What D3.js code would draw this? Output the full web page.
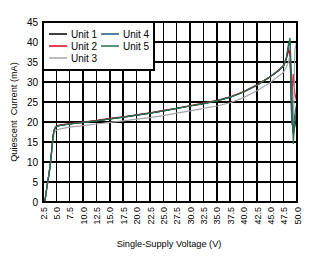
<!DOCTYPE html>
<html>
<head>
<meta charset="utf-8">
<script src="https://cdn.jsdelivr.net/npm/d3@7"></script>
<style>
  body { margin: 0; background: #fff; }
  svg text { font-family: "Liberation Sans", Arial, sans-serif; fill: #000; }
</style>
</head>
<body>
<div id="chart"></div>
<script>
// supply voltage (V) sample points shared by all units
var voltage = [2.5, 2.8, 3.0, 3.2, 3.5, 3.8, 4.1, 4.4, 4.6, 4.9,
               5.5, 7.5, 10, 12.5, 15, 17.5, 20, 22.5, 25, 27.5, 30, 32.5, 35, 37.5, 40, 42.5, 45, 46.5, 47.5,
               48, 48.4, 48.7, 49.0, 49.3, 49.6, 50];

// quiescent current (mA)
var unit1 = [0, 0.1, 1.5, 3.5, 6, 8.7, 12.5, 16.6, 18, 18.8,
             19.1, 19.5, 19.9, 20.3, 20.8, 21.2, 21.7, 22.2, 22.8, 23.4, 24.0, 24.6, 25.3, 26.2, 27.5, 29.2, 31.3, 32.8, 34,
             35.8, 38, 37, 22, 17, 19, 22];
var unit2 = [0, 0.1, 1.5, 3.5, 6, 8.7, 12.5, 16.6, 18, 18.9,
             19.2, 19.6, 20.0, 20.4, 20.9, 21.3, 21.8, 22.3, 22.9, 23.4, 24.1, 24.7, 25.4, 26.3, 27.6, 29.3, 31.4, 32.9, 34.2,
             36, 38.5, 36, 25, 32, 27, 25];
var unit3 = [0, 0.1, 1.4, 3.3, 5.7, 8.3, 12, 15.8, 17.3, 17.9,
             18.2, 18.7, 19.1, 19.5, 19.9, 20.3, 20.7, 21.1, 21.6, 22.2, 22.8, 23.4, 24.0, 24.8, 26.1, 27.8, 29.9, 31.4, 32.5,
             33.8, 35, 36.5, 30, 18, 38, 40.5];
var unit4 = [0, 0.1, 1.5, 3.5, 6, 8.7, 12.5, 16.6, 18, 18.8,
             19.1, 19.5, 19.9, 20.3, 20.8, 21.2, 21.7, 22.2, 22.8, 23.4, 24.0, 24.6, 25.3, 26.2, 27.5, 29.2, 31.3, 32.8, 34,
             36, 39, 40, 20, 18, 22, 25];
var unit5 = [0, 0.1, 1.5, 3.5, 6, 8.7, 12.5, 16.6, 18, 18.8,
             19.1, 19.5, 19.9, 20.3, 20.8, 21.2, 21.7, 22.2, 22.8, 23.4, 24.0, 24.6, 25.3, 26.2, 27.5, 29.2, 31.3, 32.8, 34,
             35.8, 39.5, 41, 30, 14.5, 20, 24];

var seriesNames = ['Unit 1', 'Unit 2', 'Unit 3', 'Unit 4', 'Unit 5'];
var seriesColors = ['#000000', '#e8001c', '#a6a6a6', '#1f5a78', '#2a6e45'];

var xTicks = [2.5, 5, 7.5, 10, 12.5, 15, 17.5, 20, 22.5, 25, 27.5, 30, 32.5, 35, 37.5, 40, 42.5, 45, 47.5, 50];
var yTicks = [0, 5, 10, 15, 20, 25, 30, 35, 40, 45];

var width = 318,
    height = 261,
    plotLeft = 43, plotRight = 297,
    plotTop = 22, plotBottom = 202;

var xScale = d3.scaleLinear().domain([2.5, 50]).range([plotLeft, plotRight]);
var yScale = d3.scaleLinear().domain([0, 45]).range([plotBottom, plotTop]);

var svg = d3.select('#chart').append('svg')
    .attr('width', width)
    .attr('height', height);

// grid
svg.append('g')
    .selectAll('line').data(xTicks)
    .enter().append('line')
        .attr('x1', function(d) { return xScale(d); })
        .attr('x2', function(d) { return xScale(d); })
        .attr('y1', plotTop).attr('y2', plotBottom)
        .attr('stroke', '#000').attr('stroke-width', 1.5)
        .attr('shape-rendering', 'crispEdges');

svg.append('g')
    .selectAll('line').data(yTicks)
    .enter().append('line')
        .attr('y1', function(d) { return yScale(d); })
        .attr('y2', function(d) { return yScale(d); })
        .attr('x1', plotLeft).attr('x2', plotRight)
        .attr('stroke', '#000').attr('stroke-width', 1.5)
        .attr('shape-rendering', 'crispEdges');

// tick labels
var yAxis = d3.axisLeft(yScale).tickValues(yTicks).tickSize(0).tickPadding(5);
svg.append('g')
    .attr('transform', 'translate(' + plotLeft + ',0)')
    .call(yAxis)
    .call(function(g) { g.select('.domain').remove(); })
    .selectAll('text')
        .style('font-size', '10px');

var xAxis = d3.axisBottom(xScale).tickValues(xTicks).tickSize(0)
    .tickFormat(d3.format('.1f'));
svg.append('g')
    .attr('transform', 'translate(0,' + plotBottom + ')')
    .call(xAxis)
    .call(function(g) { g.select('.domain').remove(); })
    .selectAll('text')
        .style('font-size', '9px')
        .attr('text-anchor', 'end')
        .attr('transform', 'rotate(-90)')
        .attr('x', -5)
        .attr('y', 0)
        .attr('dy', '0.35em');

// lines
var allSeries = [unit1, unit2, unit3, unit4, unit5];
var line = d3.line()
    .x(function(d, i) { return xScale(voltage[i]); })
    .y(function(d) { return yScale(d); });

svg.append('g')
    .selectAll('path').data(allSeries)
    .enter().append('path')
        .attr('d', line)
        .attr('fill', 'none')
        .attr('stroke', function(d, i) { return seriesColors[i]; })
        .attr('stroke-width', 1.2);

// legend
var legend = svg.append('g');
legend.append('rect')
    .attr('x', plotLeft).attr('y', plotTop)
    .attr('width', 111).attr('height', 48)
    .attr('fill', '#fff')
    .attr('stroke', '#000').attr('stroke-width', 1.2)
    .attr('shape-rendering', 'crispEdges');

var legendPos = [[49, 34], [49, 46], [49, 58], [101, 34], [101, 46]];
var items = legend.selectAll('g').data(seriesNames)
    .enter().append('g')
        .attr('transform', function(d, i) { return 'translate(' + legendPos[i][0] + ',' + legendPos[i][1] + ')'; });
items.append('line')
    .attr('x1', 0).attr('x2', 18)
    .attr('stroke', function(d, i) { return seriesColors[i]; })
    .attr('stroke-width', 1.5);
items.append('text')
    .attr('x', 22).attr('dy', '0.35em')
    .style('font-size', '10px')
    .text(function(d) { return d; });

// plot border
svg.append('rect')
    .attr('x', plotLeft).attr('y', plotTop)
    .attr('width', plotRight - plotLeft).attr('height', plotBottom - plotTop)
    .attr('fill', 'none')
    .attr('stroke', '#000').attr('stroke-width', 1.5)
    .attr('shape-rendering', 'crispEdges');

// axis titles
svg.append('text')
    .attr('x', (plotLeft + plotRight) / 2 - 1)
    .attr('y', 247)
    .attr('text-anchor', 'middle')
    .style('font-size', '9.2px')
    .text('Single-Supply Voltage (V)');

svg.append('text')
    .attr('transform', 'translate(17,112) rotate(-90)')
    .attr('text-anchor', 'middle')
    .style('font-size', '9.2px')
    .style('white-space', 'pre')
    .text('Quiescent  Current (mA)');
</script>
</body>
</html>
